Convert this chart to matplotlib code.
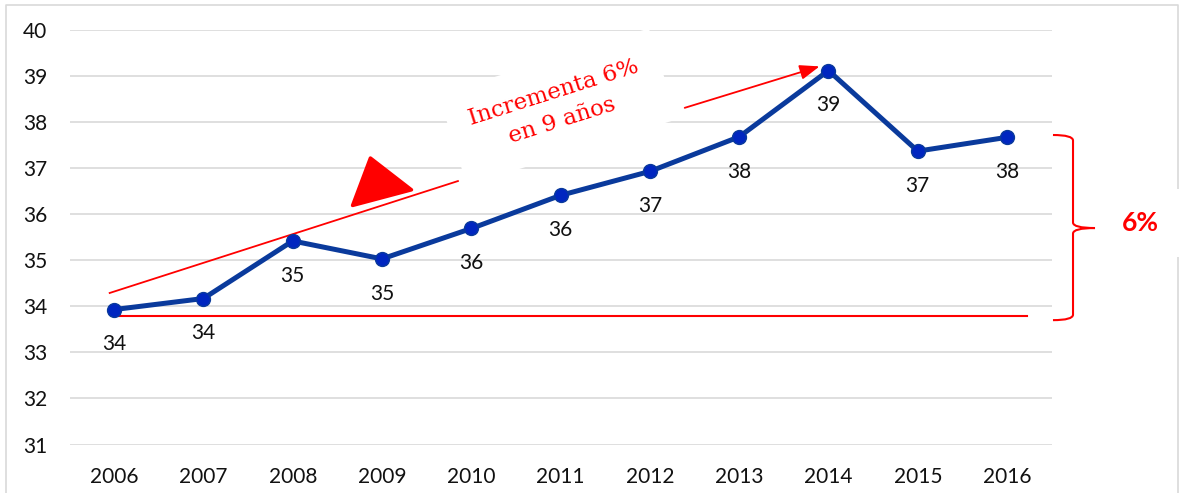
import matplotlib
matplotlib.use('Agg')
import matplotlib.pyplot as plt
import matplotlib.transforms as mtransforms
from matplotlib.path import Path
from matplotlib.patches import PathPatch, Polygon
from matplotlib.lines import Line2D

plt.rcParams['font.family'] = ['Lato', 'DejaVu Sans']

# ---- data ----
years = ['2006', '2007', '2008', '2009', '2010', '2011', '2012', '2013', '2014', '2015', '2016']
values = [33.93, 34.17, 35.42, 35.03, 35.69, 36.41, 36.93, 37.68, 39.12, 37.37, 37.67]
yticks = [31, 32, 33, 34, 35, 36, 37, 38, 39, 40]

# annotation geometry (data coordinates: x = category index, y = value)
baseline_level = 33.79
baseline_x = (0.01, 10.22)
trend_start = (-0.05, 34.29)
trend_end = (3.85, 36.72)
arrow_start = (6.39, 38.31)
arrow_end = (7.90, 39.21)
triangle = [(2.87, 37.22), (3.33, 36.53), (2.67, 36.19)]
note_pos = (4.97, 38.33)
note_text = 'Incrementa 6%\nen 9 años'
brace_top, brace_mid, brace_bot = 37.72, 35.70, 33.70
pct_text = '6%'

RED = '#FF0000'
LINE_BLUE = '#0A3A9C'
MARK_BLUE = '#0026C0'
GRID = '#D9D9D9'

fig = plt.figure(figsize=(11.8, 4.93), dpi=100)
ax = fig.add_axes([69.5 / 1180, 48.5 / 493, 982.2 / 1180, 414.5 / 493])

x = list(range(len(years)))
ax.plot(x, values, color=LINE_BLUE, lw=3.6, marker='o', markersize=10,
        markerfacecolor=MARK_BLUE, markeredgecolor=LINE_BLUE, markeredgewidth=1,
        zorder=4, solid_capstyle='round')

for xi, v in zip(x, values):
    ax.annotate(f'{v:.0f}', (xi, v), xytext=(0, -25), textcoords='offset points',
                ha='center', va='center', fontsize=15, color='#111111', zorder=5)

ax.set_xlim(-0.5, len(years) - 0.5)
ax.set_ylim(31, 40)
ax.set_yticks(yticks)
ax.set_xticks(x)
ax.set_xticklabels(years)
ax.tick_params(axis='both', length=0, labelsize=15, labelcolor='#111111')
ax.tick_params(axis='y', pad=16)
ax.tick_params(axis='x', pad=16)
ax.grid(axis='y', color=GRID, lw=1.2)
ax.set_axisbelow(True)
for s in ax.spines.values():
    s.set_visible(False)

# red annotations
ax.plot(baseline_x, [baseline_level, baseline_level], color=RED, lw=1.5, zorder=3)
ax.plot([trend_start[0], trend_end[0]], [trend_start[1], trend_end[1]], color=RED, lw=1.3, zorder=3)
ax.add_patch(Polygon(triangle, closed=True, facecolor=RED, edgecolor=RED, lw=2.5,
                     joinstyle='round', zorder=3))
ax.annotate('', xy=arrow_end, xytext=arrow_start,
            arrowprops=dict(arrowstyle='-|>,head_length=0.8,head_width=0.3', color=RED,
                            lw=1.3, shrinkA=0, shrinkB=0, mutation_scale=15), zorder=3)
ax.text(note_pos[0], note_pos[1], note_text, rotation=17.5, rotation_mode='anchor',
        ha='center', va='center', multialignment='center', linespacing=1.45,
        fontsize=16.5, color=RED, family='DejaVu Serif', zorder=2.5,
        bbox=dict(boxstyle='square,pad=0.95', facecolor='white', edgecolor='none'))

# brace (x in axes fraction, y in data)
btr = mtransforms.blended_transform_factory(ax.transAxes, ax.transData)
x0, x1, x2 = 1.0013, 1.0217, 1.0441
r = 0.12
verts = [(x0, brace_top), (x1, brace_top), (x1, brace_top - r),
         (x1, brace_mid + r), (x1, brace_mid), (x2, brace_mid),
         (x1, brace_mid), (x1, brace_mid - r),
         (x1, brace_bot + r), (x1, brace_bot), (x0, brace_bot)]
codes = [Path.MOVETO, Path.CURVE3, Path.CURVE3, Path.LINETO, Path.CURVE3, Path.CURVE3,
         Path.CURVE3, Path.CURVE3, Path.LINETO, Path.CURVE3, Path.CURVE3]
ax.add_patch(PathPatch(Path(verts, codes), facecolor='none', edgecolor=RED, lw=1.5,
                       transform=btr, clip_on=False, zorder=3))
ax.text(1.09, (brace_top + brace_bot) / 2 + 0.1, pct_text, transform=btr, ha='center', va='center',
        fontsize=19, fontweight='bold', color=RED, zorder=1, clip_on=False,
        bbox=dict(boxstyle='square,pad=0.85', facecolor='white', edgecolor='none'))

# chart border
bx0, bx1, by1 = 6 / 1180, 1178 / 1180, 1 - 5 / 493
ax.add_line(Line2D([bx0, bx0, bx1, bx1], [-0.01, by1, by1, -0.01], transform=fig.transFigure,
                   color=GRID, lw=1.2, clip_on=False, zorder=0.2))

fig.savefig('out.png', dpi=100, facecolor='white')
